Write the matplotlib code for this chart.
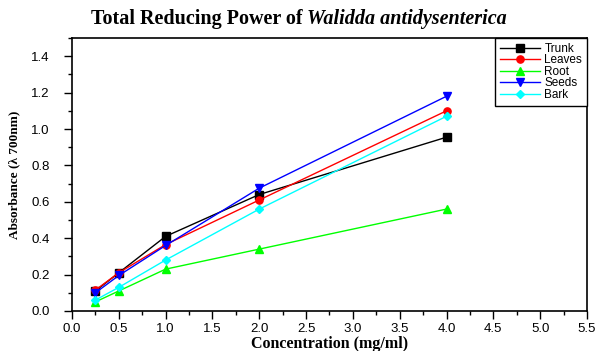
import matplotlib.pyplot as plt
from matplotlib.ticker import MultipleLocator

conc = [0.25, 0.5, 1.0, 2.0, 4.0]
trunk = [0.11, 0.21, 0.41, 0.64, 0.955]
leaves = [0.115, 0.21, 0.365, 0.61, 1.10]
root = [0.05, 0.11, 0.23, 0.34, 0.56]
seeds = [0.10, 0.195, 0.36, 0.675, 1.18]
bark = [0.06, 0.13, 0.28, 0.56, 1.07]

series = [
    ("Trunk", trunk, "black", "s"),
    ("Leaves", leaves, "red", "o"),
    ("Root", root, "#00ff00", "^"),
    ("Seeds", seeds, "blue", "v"),
    ("Bark", bark, "cyan", "D"),
]

sans = ["Liberation Sans", "DejaVu Sans"]
serif = ["Liberation Serif", "DejaVu Serif"]

fig = plt.figure(figsize=(5.97, 3.51), dpi=100)
ax = fig.add_axes([0.1206, 0.114, 0.8626, 0.7777])

for name, vals, color, marker in series:
    ms = 4.5 if marker == "D" else 5.2
    ax.plot(conc, vals, color=color, marker=marker, markersize=ms,
            linewidth=1.0, label=name)

ax.set_xlim(0, 5.5)
ax.set_ylim(0, 1.5)
ax.xaxis.set_major_locator(MultipleLocator(0.5))
ax.xaxis.set_minor_locator(MultipleLocator(0.25))
ax.yaxis.set_major_locator(MultipleLocator(0.2))
ax.yaxis.set_minor_locator(MultipleLocator(0.1))
ax.tick_params(which="major", direction="out", length=6, width=1, labelsize=9.5)
ax.tick_params(which="minor", direction="out", length=3, width=1)
ax.tick_params(axis="y", pad=10)
ax.tick_params(axis="x", pad=3)
for lab in ax.get_xticklabels() + ax.get_yticklabels():
    lab.set_family(sans)
for sp in ax.spines.values():
    sp.set_linewidth(1.2)

fig.text(0.552, 0.021, "Concentration (mg/ml)", family=serif,
         fontweight="bold", fontsize=11.5, ha="center", va="center")
ax.set_ylabel("Absorbance (λ 700nm)", family=serif, fontweight="bold",
              fontsize=9.5, labelpad=8)

fig.text(0.515, 0.945, "Total Reducing Power of ", family=serif,
         fontweight="bold", fontsize=14.5, ha="right", va="center")
fig.text(0.515, 0.945, "Walidda antidysenterica", family=serif,
         fontweight="bold", style="italic", fontsize=14.5, ha="left", va="center")

leg = ax.legend(loc="upper right", bbox_to_anchor=(1, 1), borderaxespad=0,
                prop={"family": sans, "size": 8.5}, labelspacing=-0.04,
                handlelength=3.4, handletextpad=0.4, borderpad=0.4,
                handleheight=0.6, fancybox=False, framealpha=1,
                edgecolor="black")
leg.get_frame().set_linewidth(1.0)

fig.savefig("out.png", dpi=100)
